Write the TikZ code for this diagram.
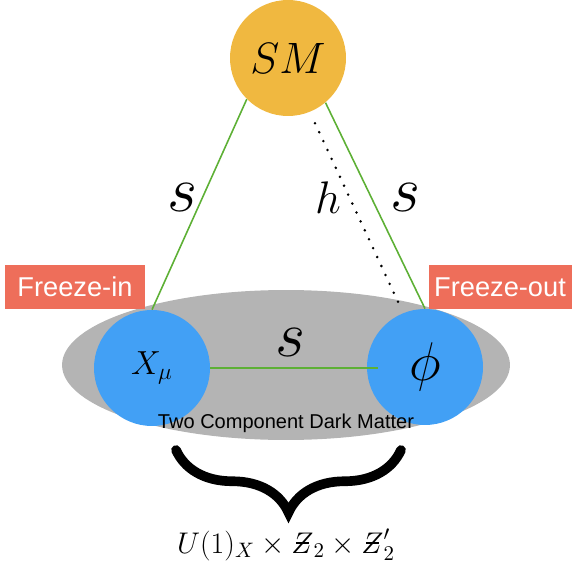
\RequirePackage{fix-cm}
\documentclass[tikz,border=0pt]{standalone}
\usepackage{fontspec}
\setsansfont{Liberation Sans}
\usepackage{xcolor}
\definecolor{smyellow}{HTML}{F0B840}
\definecolor{dmblue}{HTML}{42A0F5}
\definecolor{dmgray}{HTML}{B4B4B4}
\definecolor{linkgreen}{HTML}{5DB035}
\definecolor{tagred}{HTML}{EE6E5A}
\usepackage{tikz}
\usetikzlibrary{shapes.geometric, decorations.pathreplacing, positioning}
\usepackage{amsmath}
\newcommand{\zslash}{\mathord{\ooalign{$Z$\cr\hidewidth\rule[0.32em]{0.42em}{0.05em}\hidewidth\cr}}}

\begin{document}
\begin{tikzpicture}[
    x=0.02cm, y=-0.02cm,
    particle/.style={circle, minimum size=2.32cm, inner sep=0pt},
    link/.style={draw=linkgreen, line width=0.9pt},
    higgs/.style={draw=black, line width=1.6pt, line cap=round,
                  dash pattern=on 0pt off 5.6pt},
    coupling/.style={font=\fontsize{37}{37}\selectfont},
    tag/.style={fill=tagred, text=white, font=\sffamily\fontsize{15.5}{15.5}\selectfont,
                minimum height=0.9cm, inner sep=0pt}
  ]
    \useasboundingbox (0,0) rectangle (573,563);

    \node[ellipse, fill=dmgray, minimum width=8.96cm, minimum height=3cm, inner sep=0pt] (dm) at (286,365) {};
    \node[particle, fill=smyellow, font=\fontsize{25}{25}\selectfont] (sm) at (288,58) {$SM$};
    \node[particle, fill=dmblue, font=\fontsize{19}{19}\selectfont] (xmu) at (152,368) {$X_\mu$};
    \node[particle, fill=dmblue, font=\fontsize{31}{31}\selectfont] (phi) at (425,367) {$\phi$};
    \coordinate (slink) at (378,368);

    \draw[link] (xmu.north) -- (sm.225);
    \draw[link] (phi.north) -- (sm.-50);
    \draw[link] (xmu.east) -- (slink);
    \draw[higgs, shorten <=7pt, shorten >=5pt] (sm.-68) -- (phi.112);

    \node[coupling] (sleft) at (182,198) {$s$};
    \node[font=\fontsize{26}{26}\selectfont] (hlbl) at (328,198) {$h$};
    \node[coupling] (sright) at (405,198) {$s$};
    \node[coupling] (smid) at (290,343) {$s$};

    \node[tag, minimum width=2.8cm] (fin) at (75,287) {Freeze-in};
    \node[tag, minimum width=2.86cm] (fout) at (500,287) {Freeze-out};

    \node[font=\sffamily\fontsize{11.4}{11.4}\selectfont] (dmlbl) at (286,423) {Two Component Dark Matter};

    \coordinate (bl) at (176,450);
    \coordinate (br) at (401,450);
    \draw[line width=5.5pt, line cap=round, decorate,
          decoration={brace, mirror, amplitude=1.25cm}] (bl) -- (br);

    \node[font=\fontsize{17}{17}\selectfont] (sym) at (286,545)
      {$U(1)_X\times\zslash_2\times\zslash_2^{\prime}$};
\end{tikzpicture}
\end{document}
